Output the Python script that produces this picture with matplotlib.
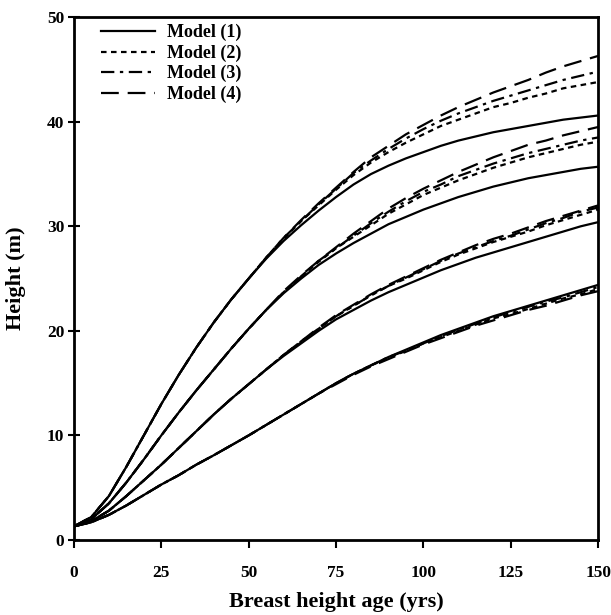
import numpy as np
import matplotlib
matplotlib.use('Agg')
import matplotlib.pyplot as plt

# ages (yrs)
ages_early = [0, 5, 10, 15, 20, 25, 30, 35, 40, 45, 50]
ages_late = [55, 60, 65, 70, 75, 80, 85, 90, 95, 100, 105, 110, 115, 120, 125,
             130, 135, 140, 145, 150]

# heights (m) up to age 50, where the four models overlap (site curves A..D, top first)
early_a = [1.3, 2.2, 4.2, 7.0, 10.0, 13.0, 15.8, 18.4, 20.8, 23.0, 25.0]
early_b = [1.3, 2.0, 3.5, 5.5, 7.7, 10.0, 12.2, 14.3, 16.3, 18.3, 20.2]
early_c = [1.3, 1.8, 2.8, 4.2, 5.7, 7.2, 8.8, 10.4, 12.0, 13.5, 14.9]
early_d = [1.3, 1.7, 2.4, 3.3, 4.3, 5.3, 6.2, 7.2, 8.1, 9.05, 10.0]

# heights (m) from age 55 on, per model
m1_a = [26.9, 28.6, 30.1, 31.5, 32.8, 34.0, 35.0, 35.8, 36.5, 37.1, 37.7, 38.2, 38.6, 39.0, 39.3, 39.6, 39.9, 40.2, 40.4, 40.6]
m1_b = [22.0, 23.6, 25.0, 26.3, 27.4, 28.4, 29.3, 30.2, 30.9, 31.6, 32.2, 32.8, 33.3, 33.8, 34.2, 34.6, 34.9, 35.2, 35.5, 35.7]
m1_c = [16.3, 17.6, 18.8, 20.0, 21.1, 22.0, 22.9, 23.7, 24.4, 25.1, 25.8, 26.4, 27.0, 27.5, 28.0, 28.5, 29.0, 29.5, 30.0, 30.4]
m1_d = [11.0, 12.0, 13.0, 14.0, 15.0, 15.9, 16.7, 17.5, 18.2, 18.9, 19.6, 20.2, 20.8, 21.4, 21.9, 22.4, 22.9, 23.4, 23.9, 24.4]

m2_a = [27.0, 28.8, 30.5, 32.0, 33.5, 34.9, 36.1, 37.1, 38.0, 38.8, 39.6, 40.2, 40.8, 41.4, 41.8, 42.3, 42.7, 43.2, 43.5, 43.8]
m2_b = [22.0, 23.7, 25.2, 26.6, 27.9, 29.0, 30.1, 31.2, 32.1, 33.0, 33.7, 34.4, 35.0, 35.6, 36.1, 36.6, 37.0, 37.4, 37.8, 38.1]
m2_c = [16.3, 17.7, 18.9, 20.2, 21.4, 22.4, 23.4, 24.3, 25.0, 25.8, 26.6, 27.3, 27.9, 28.5, 29.0, 29.5, 30.1, 30.6, 31.1, 31.6]
m2_d = [11.0, 12.0, 13.0, 14.0, 15.0, 15.9, 16.7, 17.4, 18.1, 18.8, 19.4, 20.0, 20.6, 21.2, 21.6, 22.1, 22.6, 23.1, 23.5, 24.0]

m3_a = [27.0, 28.9, 30.5, 32.1, 33.6, 35.1, 36.3, 37.4, 38.4, 39.3, 40.1, 40.8, 41.4, 42.0, 42.5, 43.0, 43.5, 44.0, 44.4, 44.8]
m3_b = [22.0, 23.7, 25.2, 26.7, 27.9, 29.1, 30.3, 31.4, 32.4, 33.3, 34.0, 34.8, 35.4, 36.0, 36.5, 37.0, 37.4, 37.8, 38.2, 38.5]
m3_c = [16.3, 17.7, 19.0, 20.2, 21.4, 22.4, 23.4, 24.3, 25.1, 25.9, 26.7, 27.4, 28.0, 28.6, 29.1, 29.7, 30.3, 30.8, 31.4, 31.8]
m3_d = [11.0, 12.0, 13.0, 14.0, 15.0, 15.9, 16.7, 17.5, 18.1, 18.8, 19.5, 20.1, 20.7, 21.3, 21.8, 22.3, 22.8, 23.2, 23.7, 24.2]

m4_a = [27.0, 28.9, 30.6, 32.2, 33.7, 35.2, 36.6, 37.7, 38.8, 39.7, 40.6, 41.4, 42.1, 42.8, 43.4, 44.0, 44.7, 45.3, 45.8, 46.3]
m4_b = [22.0, 23.8, 25.3, 26.7, 28.0, 29.3, 30.5, 31.7, 32.7, 33.6, 34.4, 35.2, 35.9, 36.6, 37.2, 37.8, 38.2, 38.7, 39.1, 39.5]
m4_c = [16.3, 17.7, 19.0, 20.3, 21.5, 22.5, 23.5, 24.4, 25.2, 26.0, 26.8, 27.5, 28.2, 28.8, 29.3, 29.9, 30.5, 31.0, 31.5, 32.0]
m4_d = [11.0, 12.0, 13.0, 14.0, 14.9, 15.8, 16.6, 17.3, 18.0, 18.7, 19.3, 19.9, 20.5, 21.0, 21.5, 22.0, 22.4, 22.9, 23.4, 23.8]

models = ['Model (1)', 'Model (2)', 'Model (3)', 'Model (4)']
late = [[m1_a, m1_b, m1_c, m1_d],
        [m2_a, m2_b, m2_c, m2_d],
        [m3_a, m3_b, m3_c, m3_d],
        [m4_a, m4_b, m4_c, m4_d]]
early = [early_a, early_b, early_c, early_d]
styles = ['-', (0, (2.5, 2.0)), (0, (6, 2.5, 1.5, 2.5)), (0, (8, 4))]

plt.rcParams['font.family'] = 'Liberation Serif'
plt.rcParams['font.weight'] = 'bold'

fig = plt.figure(figsize=(6.11, 6.15), dpi=100)
ax = fig.add_axes([0.121, 0.122, 0.858, 0.85])

ages = ages_early + ages_late
for name, ls, curves in zip(models, styles, late):
  for i, tail in enumerate(curves):
    ax.plot(ages, early[i] + tail, color='black', lw=1.6, ls=ls,
            label=name if i == 0 else None)

ax.set_xlim(0, 150)
ax.set_ylim(0, 50)
ax.set_xticks([0, 25, 50, 75, 100, 125, 150])
ax.set_yticks([0, 10, 20, 30, 40, 50])
for s in ax.spines.values():
  s.set_linewidth(2)
ax.tick_params(axis='x', direction='out', length=6, width=1.5, labelsize=12.5, pad=12)
ax.tick_params(axis='y', direction='inout', length=8, width=1.5, labelsize=12.5, pad=3)
for lab in ax.get_xticklabels() + ax.get_yticklabels():
  lab.set_fontweight('bold')

ax.set_xlabel('Breast height age (yrs)', fontsize=16, fontweight='bold', labelpad=8)
ax.set_ylabel('Height (m)', fontsize=16, fontweight='bold', labelpad=15)

ax.legend(loc='upper left', bbox_to_anchor=(0.02, 1.018), frameon=False,
          handlelength=3.0, handletextpad=0.65, labelspacing=0.18,
          prop={'family': 'Liberation Serif', 'weight': 'bold', 'size': 13})

fig.savefig('out.png', dpi=100)
